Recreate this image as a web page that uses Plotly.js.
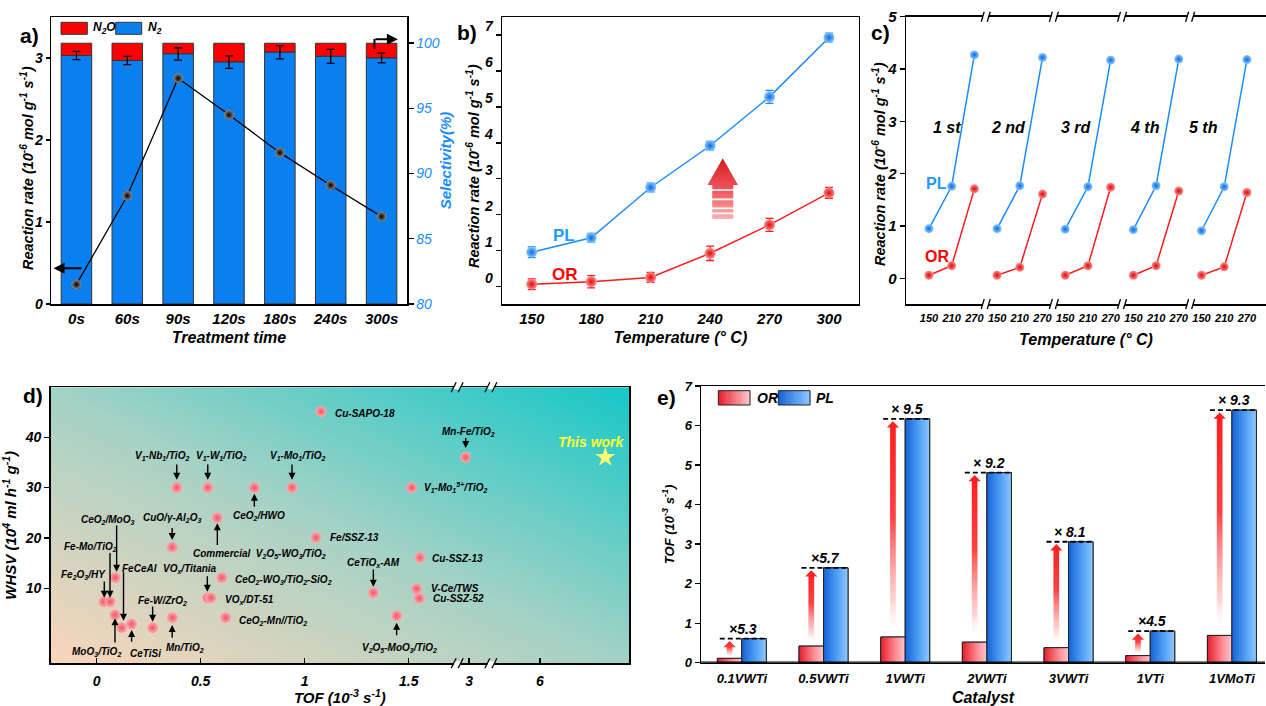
<!DOCTYPE html>
<html><head><meta charset="utf-8">
<script src="https://cdn.plot.ly/plotly-3.0.1.min.js"></script>
<style>html,body{margin:0;padding:0;background:#fff}#chart{width:1266px;height:706px}</style>
</head><body><div id="chart"></div>
<script>
// ---------------- DATA ----------------
// (a) treatment time
const timeLabels = ['0s','60s','90s','120s','180s','240s','300s'];
const n2Rate = [3.03, 2.97, 3.05, 2.95, 3.07, 3.02, 3.00];
const n2oRate = [0.15, 0.21, 0.13, 0.23, 0.11, 0.16, 0.18];
const n2Err = [0.05, 0.05, 0.075, 0.077, 0.08, 0.085, 0.06];
const selectivity = [81.5, 88.3, 97.3, 94.5, 91.6, 89.1, 86.7];
const selErr = [0.3, 0.3, 0.3, 0.3, 0.3, 0.3, 0.3];

// (b) temperature
const tempB = [150, 180, 210, 240, 270, 300];
const plB = [0.96, 1.36, 2.76, 3.92, 5.28, 6.93];
const plBErr = [0.15, 0.12, 0.12, 0.12, 0.18, 0.12];
const orB = [0.07, 0.14, 0.26, 0.93, 1.72, 2.61];
const orBErr = [0.15, 0.17, 0.14, 0.2, 0.18, 0.15];

// (c) cycles
const cycleLabels = ['1 st', '2 nd', '3 rd', '4 th', '5 th'];
const tempC = [150, 210, 270];
const plC = [[0.95, 1.76, 4.27], [0.95, 1.77, 4.22], [0.94, 1.75, 4.17], [0.93, 1.77, 4.19], [0.91, 1.75, 4.18]];
const orC = [[0.06, 0.24, 1.71], [0.06, 0.21, 1.61], [0.06, 0.24, 1.74], [0.06, 0.24, 1.67], [0.06, 0.22, 1.64]];

// (d) literature comparison (x = position on broken TOF axis, y = WHSV)
const dNames = ['Cu-SAPO-18','Mn-Fe/TiO2','V1-Mo1(5+)/TiO2','Fe/SSZ-13','Cu-SSZ-13','CeTiOx-AM','V-Ce/TWS','Cu-SSZ-52',
  'V2O5-MoO3/TiO2','V1-Nb1/TiO2','V1-W1/TiO2','CeO2/HWO','V1-Mo1/TiO2','Commercial V2O5-WO3/TiO2','CuO/γ-Al2O3',
  'CeO2/MoO3','Fe2O3/HY','Fe-Mo/TiO2','MoO3/TiO2','FeCeAl','CeTiSi','Fe-W/ZrO2','Mn/TiO2','VOx/Titania','VOx/DT-51',
  'CeO2-WO3/TiO2-SiO2','CeO2-Mn/TiO2'];
const dTof = [1.079, 1.774, 1.514, 1.054, 1.554, 1.33, 1.538, 1.551,
  1.442, 0.385, 0.534, 0.758, 0.939, 0.580, 0.363,
  0.089, 0.035, 0.064, 0.088, 0.12, 0.168, 0.269, 0.364, 0.532, 0.549,
  0.601, 0.62];
const dWhsv = [45.1, 36.0, 30.0, 20.06, 16.1, 9.1, 9.9, 8.0,
  4.55, 30, 30, 30, 30, 24.0, 18.15,
  12.1, 7.34, 7.34, 4.7, 2.17, 2.9, 2.17, 4.16, 8.1, 8.1,
  12.1, 4.16];
const thisWork = {tof: 2.445, whsv: 36.0};
const dTickVals = [0, 0.5, 1, 1.5, 1.79, 2.131];
const dTickText = ['0', '0.5', '1', '1.5', '3', '6'];

// (e) catalysts
const catalysts = ['0.1VWTi','0.5VWTi','1VWTi','2VWTi','3VWTi','1VTi','1VMoTi'];
const orE = [0.11, 0.42, 0.65, 0.52, 0.38, 0.18, 0.69];
const plE = [0.61, 2.40, 6.17, 4.81, 3.06, 0.80, 6.39];
const ratioE = ['×5.3', '×5.7', '× 9.5', '× 9.2', '× 8.1', '×4.5', '× 9.3'];

// ---------------- STYLE HELPERS ----------------
const FF = '"Liberation Sans", Arial, Helvetica, sans-serif';
const W = 1266, H = 706;
const px = (a, b) => [a / W, b / W];
const py = (top, bottom) => [1 - bottom / H, 1 - top / H];
const F = (size, extra) => Object.assign({family: FF, size: size, color: '#000', weight: 'bold', style: 'italic'}, extra || {});
const BLUE = '#1a8cff', RED = '#ff1a1a';

const traces = [];
const shapes = [];
const annotations = [];
const paperText = (text, x, y, font, extra) => annotations.push(Object.assign({xref: 'paper', yref: 'paper',
  x: x / W, y: 1 - y / H, xanchor: 'center', yanchor: 'middle', text: text, showarrow: false, font: font}, extra || {}));

// ---------------- PANEL A ----------------
const idxA = timeLabels.map((_, i) => i);
traces.push({type: 'bar', x: idxA, y: n2oRate, base: n2Rate, width: 0.6, xaxis: 'x', yaxis: 'y',
  marker: {color: '#ff0000', line: {color: '#333', width: 1}}, name: 'N2O'});
traces.push({type: 'bar', x: idxA, y: n2Rate, width: 0.6, xaxis: 'x', yaxis: 'y',
  marker: {color: '#0a7ff0', line: {color: '#333', width: 1}}, name: 'N2',
  error_y: {type: 'data', array: n2Err, color: '#000', thickness: 1.3, width: 4}});
traces.push({type: 'scatter', mode: 'lines+markers', x: idxA, y: selectivity, xaxis: 'x', yaxis: 'y6',
  line: {color: '#000', width: 1.3},
  marker: {size: 10, color: '#8a8a8a', gradient: {type: 'radial', color: '#000'}, line: {width: 0}},
  error_y: {type: 'data', array: selErr, color: '#000', thickness: 1, width: 3}, name: 'Selectivity'});

// legend (a)
shapes.push({type: 'rect', xref: 'paper', yref: 'paper', x0: 61 / W, x1: 87.3 / W, y0: 1 - 34.3 / H, y1: 1 - 22.3 / H,
  fillcolor: '#ff0000', line: {color: '#333', width: 1}});
shapes.push({type: 'rect', xref: 'paper', yref: 'paper', x0: 115.7 / W, x1: 141.7 / W, y0: 1 - 34.3 / H, y1: 1 - 22.3 / H,
  fillcolor: '#0a7ff0', line: {color: '#333', width: 1}});
paperText('N<sub>2</sub>O', 90.5, 28.5, F(12), {xanchor: 'left'});
paperText('N<sub>2</sub>', 145.5, 28.5, F(12), {xanchor: 'left'});
// arrows (a)
annotations.push({xref: 'x', yref: 'y', x: -0.45, y: 0.435, axref: 'x', ayref: 'y', ax: 0.13, ay: 0.435,
  text: '', showarrow: true, arrowhead: 2, arrowsize: 1.1, arrowwidth: 2, arrowcolor: '#000'});
shapes.push({type: 'line', xref: 'x', yref: 'y6', x0: 5.86, x1: 5.86, y0: 99.55, y1: 100.32, line: {color: '#000', width: 2}});
annotations.push({xref: 'x', yref: 'y6', x: 6.32, y: 100.3, axref: 'x', ayref: 'y6', ax: 5.85, ay: 100.3,
  text: '', showarrow: true, arrowhead: 2, arrowsize: 1.1, arrowwidth: 2, arrowcolor: '#000'});

// ---------------- PANEL B ----------------
const sphere = (c0, c1, s) => ({size: s, color: c0, gradient: {type: 'radial', color: c1}, line: {width: 0}});
const BLUE_SPH = ['#8cc8ff', '#0a6ae0'], RED_SPH = ['#ff9090', '#dd0808'];
traces.push({type: 'scatter', mode: 'lines+markers', x: tempB, y: plB, xaxis: 'x2', yaxis: 'y2',
  line: {color: BLUE, width: 1.5}, marker: sphere(BLUE_SPH[0], BLUE_SPH[1], 11),
  error_y: {type: 'data', array: plBErr, color: BLUE, thickness: 1.3, width: 4}, name: 'PL'});
traces.push({type: 'scatter', mode: 'lines+markers', x: tempB, y: orB, xaxis: 'x2', yaxis: 'y2',
  line: {color: RED, width: 1.5}, marker: sphere(RED_SPH[0], RED_SPH[1], 11),
  error_y: {type: 'data', array: orBErr, color: RED, thickness: 1.3, width: 4}, name: 'OR'});
// big arrow (decoration)
(function () {
  const c = 246.4, hw = 7.7, sw = 5.3, tip = 3.57, hb = 2.83, bot = 1.88;
  traces.push({type: 'scatter', mode: 'lines', xaxis: 'x2', yaxis: 'y2', hoverinfo: 'skip',
    x: [c - sw, c - sw, c - hw, c, c + hw, c + sw, c + sw, c - sw],
    y: [bot, hb, hb, tip, hb, hb, bot, bot], fill: 'toself', line: {width: 0, color: 'rgba(0,0,0,0)'},
    fillgradient: {type: 'vertical', start: bot, stop: tip,
      colorscale: [[0, '#ffb2b8'], [0.45, '#f05a60'], [1, '#d81c22']]}});
  const stripes = [2.04, 2.18, 2.43, 2.69];
  const sx = [], sy = [];
  stripes.forEach(s => { sx.push(c - sw - 0.3, c + sw + 0.3, null); sy.push(s, s, null); });
  traces.push({type: 'scatter', mode: 'lines', xaxis: 'x2', yaxis: 'y2', hoverinfo: 'skip', x: sx, y: sy,
    line: {color: '#ffffff', width: 1.6}});
})();
annotations.push({xref: 'x2', yref: 'y2', x: 166.3, y: 1.43, text: 'PL', showarrow: false,
  font: {family: FF, size: 17, weight: 'bold', color: '#1e9bff'}});
annotations.push({xref: 'x2', yref: 'y2', x: 166.8, y: 0.33, text: 'OR', showarrow: false,
  font: {family: FF, size: 17, weight: 'bold', color: '#ff0000'}});

// ---------------- PANEL C ----------------
const cX = [], cPL = [], cOR = [], cTickVals = [], cTickText = [];
plC.forEach((cyc, k) => {
  cyc.forEach((v, j) => {
    cX.push(k * tempC.length + j); cPL.push(v); cOR.push(orC[k][j]);
    cTickVals.push(k * tempC.length + j); cTickText.push(String(tempC[j]));
  });
  cX.push(null); cPL.push(null); cOR.push(null);
});
traces.push({type: 'scatter', mode: 'lines+markers', x: cX, y: cPL, xaxis: 'x3', yaxis: 'y3', connectgaps: false,
  line: {color: BLUE, width: 1.5}, marker: sphere(BLUE_SPH[0], BLUE_SPH[1], 9), name: 'PL cycles'});
traces.push({type: 'scatter', mode: 'lines+markers', x: cX, y: cOR, xaxis: 'x3', yaxis: 'y3', connectgaps: false,
  line: {color: RED, width: 1.5}, marker: sphere(RED_SPH[0], RED_SPH[1], 9), name: 'OR cycles'});
const cLabelX = [0.79, 3.52, 6.48, 9.52, 12.07];
cycleLabels.forEach((t, k) => annotations.push({xref: 'x3', yref: 'y3', x: cLabelX[k], y: 2.89, text: t,
  showarrow: false, font: F(16)}));
annotations.push({xref: 'x3', yref: 'y3', x: 0.35, y: 1.82, text: 'PL', showarrow: false,
  font: {family: FF, size: 16, weight: 'bold', color: '#1e9bff'}});
annotations.push({xref: 'x3', yref: 'y3', x: 0.35, y: 0.41, text: 'OR', showarrow: false,
  font: {family: FF, size: 16, weight: 'bold', color: '#ff0000'}});
// axis breaks
function breakMarks(xref, yref, xs, unitX, unitY, gapPx, slashW, slashH, sep) {
  xs.forEach(b => {
    [0, 1].forEach(edge => {
      shapes.push({type: 'rect', xref: xref, yref: yref, x0: b - gapPx * unitX, x1: b + gapPx * unitX,
        y0: edge - 2 * unitY, y1: edge + 2 * unitY, fillcolor: '#ffffff', line: {width: 0}});
      [-1, 1].forEach(s => {
        const cx = b + s * sep * unitX;
        shapes.push({type: 'line', xref: xref, yref: yref,
          x0: cx - slashW / 2 * unitX, x1: cx + slashW / 2 * unitX,
          y0: edge - slashH / 2 * unitY, y1: edge + slashH / 2 * unitY, line: {color: '#000', width: 1.3}});
      });
    });
  });
}
breakMarks('x3', 'y3 domain', [2.5, 5.5, 8.5, 11.5], 1 / 22.7, 1 / 287.3, 3, 3, 10, 3);

// ---------------- PANEL D ----------------
traces.push({type: 'scatter', mode: 'markers', x: dTof, y: dWhsv, text: dNames, xaxis: 'x4', yaxis: 'y4',
  marker: sphere('#ffa8b0', '#ec5862', 11), name: 'Literature'});
traces.push({type: 'scatter', mode: 'markers', x: [thisWork.tof], y: [thisWork.whsv], xaxis: 'x4', yaxis: 'y4',
  marker: {symbol: 'star', size: 15, color: '#ffff70', line: {width: 0}}, name: 'This work'});
const dLabels = [
  ['Cu-SAPO-18', 1.136, 44.65, 'left'],
  ['Mn-Fe/TiO<sub>2</sub>', 1.787, 41.1, 'center'],
  ['V<sub>1</sub>-Mo<sub>1</sub><sup>5+</sup>/TiO<sub>2</sub>', 1.5625, 30, 'left'],
  ['Fe/SSZ-13', 1.112, 20, 'left'],
  ['Cu-SSZ-13', 1.602, 15.9, 'left'],
  ['CeTiO<sub>x</sub>-AM', 1.33, 15, 'center'],
  ['V-Ce/TWS', 1.599, 10, 'left'],
  ['Cu-SSZ-52', 1.606, 7.93, 'left'],
  ['V<sub>2</sub>O<sub>5</sub>-MoO<sub>3</sub>/TiO<sub>2</sub>', 1.455, -1.93, 'center'],
  ['V<sub>1</sub>-Nb<sub>1</sub>/TiO<sub>2</sub>', 0.3125, 36.3, 'center'],
  ['V<sub>1</sub>-W<sub>1</sub>/TiO<sub>2</sub>', 0.601, 36.3, 'center'],
  ['V<sub>1</sub>-Mo<sub>1</sub>/TiO<sub>2</sub>', 0.966, 36.3, 'center'],
  ['CeO<sub>2</sub>/HWO', 0.782, 24.4, 'center'],
  ['Commercial  V<sub>2</sub>O<sub>5</sub>-WO<sub>3</sub>/TiO<sub>2</sub>', 0.782, 16.76, 'center'],
  ['CuO/γ-Al<sub>2</sub>O<sub>3</sub>', 0.36, 23.9, 'center'],
  ['CeO<sub>2</sub>/MoO<sub>3</sub>', 0.053, 23.6, 'center'],
  ['Fe-Mo/TiO<sub>2</sub>', -0.029, 18.27, 'center'],
  ['Fe<sub>2</sub>O<sub>3</sub>/HY', -0.061, 12.7, 'center'],
  ['FeCeAl', 0.208, 13.84, 'center'],
  ['VO<sub>x</sub>/Titania', 0.449, 13.84, 'center'],
  ['CeO<sub>2</sub>-WO<sub>3</sub>/TiO<sub>2</sub>-SiO<sub>2</sub>', 0.654, 11.6, 'left'],
  ['VO<sub>x</sub>/DT-51', 0.606, 7.6, 'left'],
  ['CeO<sub>2</sub>-Mn//TiO<sub>2</sub>', 0.673, 3.56, 'left'],
  ['Fe-W/ZrO<sub>2</sub>', 0.315, 7.5, 'center'],
  ['Mn/TiO<sub>2</sub>', 0.425, -1.93, 'center'],
  ['MoO<sub>3</sub>/TiO<sub>2</sub>', 0.0, -2.6, 'center'],
  ['CeTiSi', 0.236, -2.9, 'center']
];
dLabels.forEach(l => annotations.push({xref: 'x4', yref: 'y4', x: l[1], y: l[2], xanchor: l[3], yanchor: 'middle',
  text: l[0], showarrow: false, font: F(10)}));
annotations.push({xref: 'x4', yref: 'y4', x: 2.38, y: 38.95, text: 'This work', showarrow: false,
  font: F(14, {color: '#ffff33'})});
// [x, yTail, yHead]
const dArrows = [
  [1.774, 40.14, 37.83], [1.33, 14.04, 10.32], [1.442, 0.38, 3.16],
  [0.385, 34.85, 31.53], [0.534, 34.85, 31.53], [0.939, 34.85, 31.53],
  [0.758, 25.9, 28.75], [0.580, 18.27, 22.92], [0.363, 22.25, 19.6],
  [0.096, 22.78, 13.3], [0.064, 17.28, 8.13], [0.0365, 11.65, 8.13],
  [0.129, 13.5, 3.56], [0.532, 12.7, 9.32], [0.269, 6.68, 3.36],
  [0.363, -0.14, 2.7], [0.088, -1.07, 4.04], [0.168, -0.93, 1.71]
];
dArrows.forEach(a => annotations.push({xref: 'x4', yref: 'y4', x: a[0], y: a[2], axref: 'x4', ayref: 'y4',
  ax: a[0], ay: a[1], text: '', showarrow: true, arrowhead: 2, arrowsize: 1, arrowwidth: 1.4, arrowcolor: '#000'}));
breakMarks('x4', 'y4 domain', [1.733, 1.895], 1 / 208, 1 / 276, 3.5, 5, 10, 3.5);

// ---------------- PANEL E ----------------
const idxE = catalysts.map((_, i) => i);
traces.push({type: 'bar', x: idxE, y: orE, width: 0.3, offset: -0.3, xaxis: 'x5', yaxis: 'y5',
  marker: {color: '#f56a74', line: {color: '#222', width: 1}}, name: 'OR'});
traces.push({type: 'bar', x: idxE, y: plE, width: 0.3, offset: 0, xaxis: 'x5', yaxis: 'y5',
  marker: {color: '#4d9cf5', line: {color: '#222', width: 1}}, name: 'PL'});
idxE.forEach(i => {
  traces.push({type: 'scatter', mode: 'lines', xaxis: 'x5', yaxis: 'y5', hoverinfo: 'skip',
    x: [i - 0.3, i, i, i - 0.3, i - 0.3], y: [0, 0, orE[i], orE[i], 0], fill: 'toself',
    line: {color: '#222', width: 1},
    fillgradient: {type: 'horizontal', start: i - 0.3, stop: i,
      colorscale: [[0, '#e51d2a'], [0.6, '#fb8a94'], [1, '#ffc7cd']]}});
  traces.push({type: 'scatter', mode: 'lines', xaxis: 'x5', yaxis: 'y5', hoverinfo: 'skip',
    x: [i, i + 0.3, i + 0.3, i, i], y: [0, 0, plE[i], plE[i], 0], fill: 'toself',
    line: {color: '#222', width: 1},
    fillgradient: {type: 'horizontal', start: i, stop: i + 0.3,
      colorscale: [[0, '#1463d6'], [0.55, '#4f9ef5'], [1, '#90c8ff']]}});
  // arrow OR -> PL
  const c = i - 0.15, sw = 0.035, hw = 0.075, tip = plE[i] - 0.06, hb = tip - 0.16, bot = orE[i] + 0.06;
  traces.push({type: 'scatter', mode: 'lines', xaxis: 'x5', yaxis: 'y5', hoverinfo: 'skip',
    x: [c - sw, c - sw, c - hw, c, c + hw, c + sw, c + sw, c - sw], y: [bot, hb, hb, tip, hb, hb, bot, bot],
    fill: 'toself', line: {width: 0, color: 'rgba(0,0,0,0)'},
    fillgradient: {type: 'vertical', start: bot, stop: tip,
      colorscale: [[0, 'rgba(255,255,255,0)'], [0.15, 'rgba(255,120,120,0.3)'],
      [0.55, 'rgba(255,50,50,0.92)'], [1, 'rgb(255,30,30)']]}});
});
const dashX = [], dashY = [];
idxE.forEach(i => { dashX.push(i - 0.27, i + 0.3, null); dashY.push(plE[i], plE[i], null); });
traces.push({type: 'scatter', mode: 'lines', x: dashX, y: dashY, xaxis: 'x5', yaxis: 'y5', hoverinfo: 'skip',
  line: {color: '#000', width: 1.8, dash: '5px,3px'}});
idxE.forEach(i => annotations.push({xref: 'x5', yref: 'y5', x: i + 0.02, y: plE[i], yanchor: 'bottom', yshift: 0,
  text: ratioE[i], showarrow: false, font: F(14)}));
shapes.push({type: 'line', xref: 'x5 domain', yref: 'y5', x0: 0, x1: 1, y0: 0, y1: 0, line: {color: '#000', width: 2.5}});
// legend (e) with gradient strips
function mix(a, b, t) {
  const pa = [1, 3, 5].map(k => parseInt(a.substr(k, 2), 16));
  const pb = [1, 3, 5].map(k => parseInt(b.substr(k, 2), 16));
  return 'rgb(' + pa.map((v, k) => Math.round(v + (pb[k] - v) * t)).join(',') + ')';
}
function gradBox(x0, x1, y0, y1, c0, c1) {
  const n = 14;
  for (let k = 0; k < n; k++) {
    shapes.push({type: 'rect', xref: 'paper', yref: 'paper', x0: (x0 + (x1 - x0) * k / n) / W,
      x1: (x0 + (x1 - x0) * (k + 1) / n) / W + 0.0004, y0: 1 - y1 / H, y1: 1 - y0 / H,
      fillcolor: mix(c0, c1, (k + 0.5) / n), line: {width: 0}});
  }
  shapes.push({type: 'rect', xref: 'paper', yref: 'paper', x0: x0 / W, x1: x1 / W, y0: 1 - y1 / H, y1: 1 - y0 / H,
    line: {color: '#222', width: 1}});
}
gradBox(718.3, 750, 390.7, 405, '#e51d2a', '#ffc7cd');
gradBox(778.3, 810, 390.7, 405, '#1463d6', '#90c8ff');
paperText('OR', 754.5, 398, F(14), {xanchor: 'left'});
paperText('PL', 814, 398, F(14), {xanchor: 'left'});

// ---------------- PANEL LETTERS & Y TITLES ----------------
[['a)', 30, 35], ['b)', 467, 33], ['c)', 880, 32], ['d)', 33, 395], ['e)', 666, 397]].forEach(p =>
  paperText(p[0], p[1], p[2], {family: FF, size: 21, weight: 'bold', color: '#000'}));
const rateTitle = 'Reaction rate (10<sup>-6</sup> mol g<sup>-1</sup> s<sup>-1</sup>)';
paperText(rateTitle, 27, 168, F(14.5), {textangle: -90});
paperText(rateTitle, 473, 166, F(14.5), {textangle: -90});
paperText(rateTitle, 879, 164, F(14.5), {textangle: -90});

// ---------------- BACKGROUND GRADIENT (d) ----------------
function gradientURL() {
  const cv = document.createElement('canvas'); cv.width = 300; cv.height = 300;
  const g = cv.getContext('2d');
  const lg = g.createLinearGradient(0, 300, 300, 0);
  lg.addColorStop(0, '#fad6bb'); lg.addColorStop(0.5, '#a3d2c6'); lg.addColorStop(1, '#16c8c8');
  g.fillStyle = lg; g.fillRect(0, 0, 300, 300);
  return cv.toDataURL();
}
const dDomX = px(50.7, 629), dDomY = py(387.3, 663.3);

// ---------------- AXES ----------------
const tick14 = F(14), tick13 = F(13);
const baseAx = {showgrid: false, zeroline: false, showline: true, linecolor: '#000', linewidth: 1.5,
  tickcolor: '#000', ticklen: 5, tickwidth: 1.3};
const layout = {
  width: W, height: H, margin: {l: 0, r: 0, t: 0, b: 0}, paper_bgcolor: '#fff', plot_bgcolor: 'rgba(0,0,0,0)',
  showlegend: false, barmode: 'overlay', font: {family: FF},
  xaxis: Object.assign({}, baseAx, {domain: px(51, 407), anchor: 'y', range: [-0.5, 6.5], tickvals: idxA, ticktext: timeLabels,
    ticks: '', mirror: true, tickfont: F(15), title: {text: 'Treatment time', font: F(16), standoff: 6}}),
  yaxis: Object.assign({}, baseAx, {domain: py(17, 304), anchor: 'x', range: [0, 3.5], tickvals: [0, 1, 2, 3], ticks: 'outside',
    ticklen: 4, tickfont: tick14}),
  yaxis6: Object.assign({}, baseAx, {overlaying: 'y', side: 'right', anchor: 'x', range: [80, 102], tickvals: [80, 85, 90, 95, 100],
    ticks: 'outside', tickfont: {family: FF, size: 14, style: 'italic', color: BLUE},
    title: {text: 'Selectivity(%)', font: F(15, {color: BLUE}), standoff: 1}}),
  xaxis2: Object.assign({}, baseAx, {domain: px(502, 858.7), anchor: 'y2', range: [135, 315], tickvals: tempB, ticks: '',
    mirror: true, tickfont: F(15), title: {text: 'Temperature (° C)', font: F(16), standoff: 6}}),
  yaxis2: Object.assign({}, baseAx, {domain: py(17, 304), anchor: 'x2', range: [-0.48, 7.5], tickvals: [0, 1, 2, 3, 4, 5, 6, 7],
    ticks: 'outside', mirror: true, tickfont: tick14, ticklabelshift: -9}),
  xaxis3: Object.assign({}, baseAx, {domain: px(906, 1266), anchor: 'y3', range: [-1.01, 14.84], tickvals: cTickVals,
    ticktext: cTickText, ticks: '', mirror: true, tickfont: F(11), ticklabelstandoff: 3,
    title: {text: 'Temperature (° C)', font: F(16), standoff: 11}}),
  yaxis3: Object.assign({}, baseAx, {domain: py(16.7, 304), anchor: 'x3', range: [-0.49, 5], tickvals: [0, 1, 2, 3, 4, 5],
    ticks: 'outside', tickfont: F(15)}),
  xaxis4: Object.assign({}, baseAx, {domain: dDomX, anchor: 'y4', range: [-0.221, 2.559], tickvals: dTickVals, ticktext: dTickText,
    ticks: 'inside', mirror: true, tickfont: F(14), ticklabelstandoff: 4,
    title: {text: 'TOF (10<sup>-3</sup> s<sup>-1</sup>)', font: F(15), standoff: 2}}),
  yaxis4: Object.assign({}, baseAx, {domain: dDomY, anchor: 'x4', range: [-4.9, 49.9], tickvals: [10, 20, 30, 40],
    ticks: 'outside', mirror: true, tickfont: F(14), title: {text: 'WHSV (10<sup>4</sup> ml h<sup>-1</sup> g<sup>-1</sup>)', font: F(15), standoff: 7}}),
  xaxis5: Object.assign({}, baseAx, {domain: px(701, 1265), anchor: 'y5', range: [-0.5, 6.405], tickvals: idxE, ticktext: catalysts,
    ticks: '', mirror: true, tickfont: F(13), ticklabelstandoff: 3, title: {text: 'Catalyst', font: F(16), standoff: 9}}),
  yaxis5: Object.assign({}, baseAx, {domain: py(386, 662.7), anchor: 'x5', range: [0, 7], tickvals: [0, 1, 2, 3, 4, 5, 6, 7],
    ticks: 'outside', tickfont: F(13), title: {text: 'TOF (10<sup>-3</sup> s<sup>-1</sup>)', font: F(13), standoff: 6}}),
  images: [{source: gradientURL(), xref: 'paper', yref: 'paper', x: dDomX[0], y: dDomY[1],
    sizex: dDomX[1] - dDomX[0], sizey: dDomY[1] - dDomY[0], sizing: 'stretch', xanchor: 'left', yanchor: 'top', layer: 'below'}],
  shapes: shapes, annotations: annotations
};

Plotly.newPlot('chart', traces, layout, {displayModeBar: false, staticPlot: true});
</script></body></html>
